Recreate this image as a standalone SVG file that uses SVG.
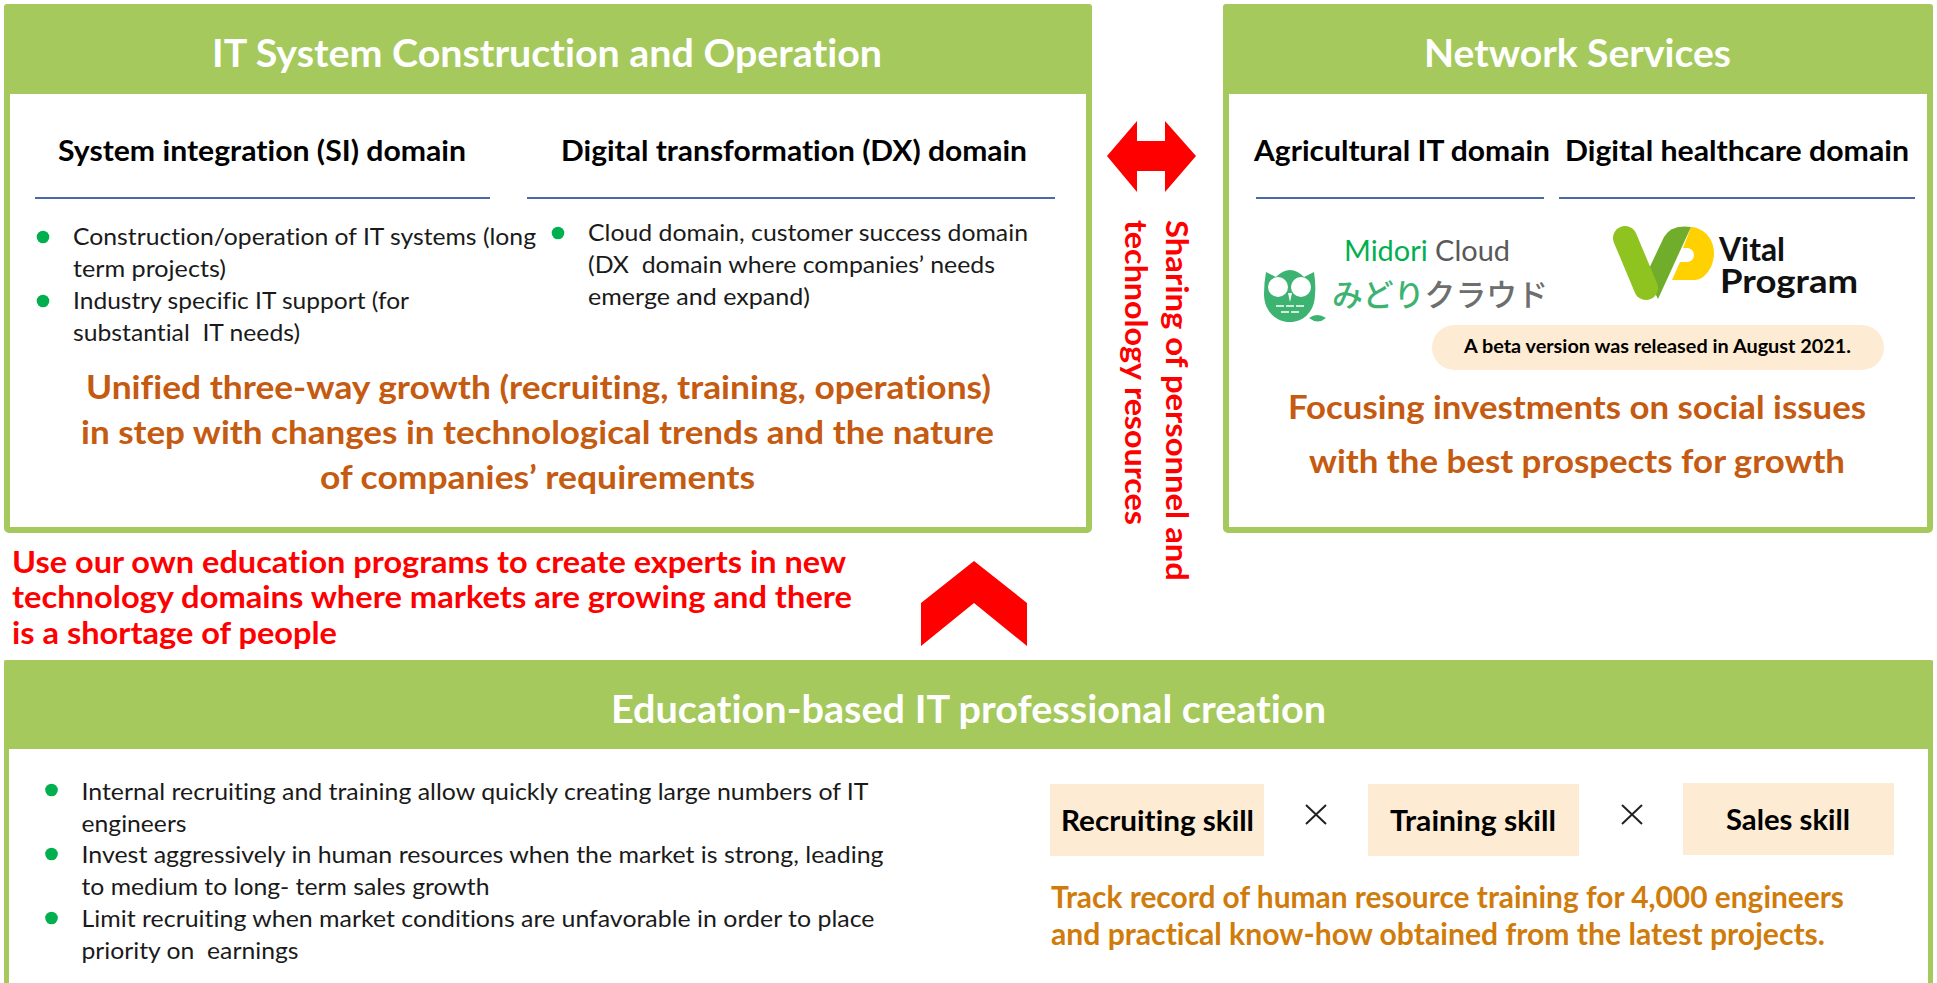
<svg xmlns="http://www.w3.org/2000/svg" width="1937" height="983" viewBox="0 0 1937 983">
<style>
text{font-family:Lato,"Noto Sans",sans-serif;white-space:pre;font-variant-ligatures:none}
.hd{fill:#a5c95c}
.box{fill:#fff;stroke:#a5c95c;stroke-width:6}
.t{font-size:39px;font-weight:700;fill:#fff}
.d{font-size:28px;font-weight:700;fill:#000}
.b{font-size:23.500px;fill:#1a1a1a}
.o{font-size:33px;font-weight:700;fill:#c55a11}
.r{font-size:30px;font-weight:700;fill:#f00}
.s{font-size:29px;font-weight:700;fill:#000}
.g{font-size:30px;font-weight:700;fill:#d07c0c}
.rule{stroke:#4a68ab;stroke-width:2}
.dot{fill:#00b050}
.sk{fill:#fdebd3}
.x{stroke:#222;stroke-width:2}
</style>
<rect width="1937" height="983" fill="#fff"/>
<g id="panel-it">
<rect class="box" x="7" y="7" width="1082" height="523" rx="2"/>
<rect class="hd" x="4" y="4" width="1088" height="90" rx="3"/>
<rect class="hd" x="4" y="60" width="1088" height="34"/>
<text class="t" x="212" y="67" textLength="670" lengthAdjust="spacingAndGlyphs">IT System Construction and Operation</text>
<text class="d" x="58" y="161" textLength="408" lengthAdjust="spacingAndGlyphs">System integration (SI) domain</text>
<text class="d" x="561" y="161" textLength="466" lengthAdjust="spacingAndGlyphs">Digital transformation (DX) domain</text>
<line class="rule" x1="35" y1="198" x2="490" y2="198"/>
<line class="rule" x1="527" y1="198" x2="1055" y2="198"/>
<circle class="dot" cx="43" cy="237" r="6.300"/>
<circle class="dot" cx="43" cy="301" r="6.300"/>
<circle class="dot" cx="558" cy="233" r="6.300"/>
<text class="b" x="73" y="245" textLength="463" lengthAdjust="spacingAndGlyphs">Construction/operation of IT systems (long</text>
<text class="b" x="73" y="277" textLength="153" lengthAdjust="spacingAndGlyphs">term projects)</text>
<text class="b" x="73" y="309" textLength="336" lengthAdjust="spacingAndGlyphs">Industry specific IT support (for</text>
<text class="b" x="73" y="341" textLength="227" lengthAdjust="spacingAndGlyphs">substantial  IT needs)</text>
<text class="b" x="588" y="241" textLength="440" lengthAdjust="spacingAndGlyphs">Cloud domain, customer success domain</text>
<text class="b" x="588" y="273" textLength="407" lengthAdjust="spacingAndGlyphs">(DX  domain where companies’ needs</text>
<text class="b" x="588" y="305" textLength="222" lengthAdjust="spacingAndGlyphs">emerge and expand)</text>
<text class="o" x="86" y="399" textLength="905" lengthAdjust="spacingAndGlyphs">Unified three-way growth (recruiting, training, operations)</text>
<text class="o" x="81" y="444" textLength="913" lengthAdjust="spacingAndGlyphs">in step with changes in technological trends and the nature</text>
<text class="o" x="320" y="489" textLength="435" lengthAdjust="spacingAndGlyphs">of companies’ requirements</text>
</g>
<g id="panel-network">
<rect class="box" x="1226" y="7" width="704" height="523" rx="2"/>
<rect class="hd" x="1223" y="4" width="710" height="90" rx="3"/>
<rect class="hd" x="1223" y="60" width="710" height="34"/>
<text class="t" x="1424" y="67" textLength="307" lengthAdjust="spacingAndGlyphs">Network Services</text>
<text class="d" x="1254" y="161" textLength="296" lengthAdjust="spacingAndGlyphs">Agricultural IT domain</text>
<text class="d" x="1565" y="161" textLength="344" lengthAdjust="spacingAndGlyphs">Digital healthcare domain</text>
<line class="rule" x1="1256" y1="198" x2="1544" y2="198"/>
<line class="rule" x1="1559" y1="198" x2="1915" y2="198"/>
<g id="logo-midori">
<text x="1344" y="261" font-size="28" textLength="166" lengthAdjust="spacingAndGlyphs"><tspan fill="#00b050">Midori</tspan><tspan fill="#595959"> Cloud</tspan></text>
<path d="M1266 272L1276 277Q1290 263 1304 277L1314 272Q1316 285 1315 294C1315 312 1303 322 1290 322C1277 322 1264 312 1264 294Q1264 283 1266 272Z" fill="#3cb371"/>
<circle cx="1278" cy="287" r="10" fill="#fff"/>
<circle cx="1301" cy="287" r="10" fill="#fff"/>
<path d="M1288 293h4l-2 9z" fill="#fff"/>
<path d="M1276 306h8M1286 306h8M1296 306h8M1281 312h8M1291 312h8" stroke="#fff" stroke-width="1.500"/>
<path d="M1309 318q8-6 17 0q-8 7-17 0z" fill="#3cb371"/>
<text x="1332" y="306" font-size="31" font-weight="500" textLength="216" lengthAdjust="spacingAndGlyphs" style="font-family:'Noto Sans CJK JP',sans-serif"><tspan fill="#3cb371">みどり</tspan><tspan fill="#6e6e6e">クラウド</tspan></text>
</g>
<g id="logo-vital">
<path d="M1691 227C1705 228 1714 240 1714 253C1714 268 1704 280 1695 280H1672L1680 262H1687A7 7 0 0 0 1687 248H1683Z" fill="#ffd100"/>
<path d="M1658 299L1691 227Q1671 224 1664 237L1646 275Z" fill="#6fad2b"/>
<path d="M1625 238L1646 288" stroke="#8fc31f" stroke-width="24" stroke-linecap="round" fill="none"/>
<text x="1719" y="261" font-size="33" font-weight="700" fill="#111" textLength="66" lengthAdjust="spacingAndGlyphs">Vital</text>
<text x="1720" y="293" font-size="33" font-weight="700" fill="#111" textLength="138" lengthAdjust="spacingAndGlyphs">Program</text>
</g>
<rect class="sk" x="1432" y="325" width="452" height="45" rx="22.500"/>
<text x="1464" y="353" font-size="19" font-weight="700" fill="#000" textLength="387" lengthAdjust="spacingAndGlyphs">A beta version was released in August 2021.</text>
<text class="o" x="1288" y="419" textLength="578" lengthAdjust="spacingAndGlyphs">Focusing investments on social issues</text>
<text class="o" x="1309" y="473" textLength="536" lengthAdjust="spacingAndGlyphs">with the best prospects for growth</text>
</g>
<g id="connectors">
<path fill="#f00" d="M1107 156L1137 121V141H1165V121L1196 156L1165 192V171H1137V192Z"/>
<path fill="#f00" d="M921 646V603L974 561L1027 603V646L974 603Z"/>
</g>
<text class="r" transform="translate(1166 220) rotate(90)" textLength="361" lengthAdjust="spacingAndGlyphs">Sharing of personnel and</text>
<text class="r" transform="translate(1125 220) rotate(90)" textLength="305" lengthAdjust="spacingAndGlyphs">technology resources</text>
<text class="r" x="12" y="573" textLength="834" lengthAdjust="spacingAndGlyphs">Use our own education programs to create experts in new</text>
<text class="r" x="12" y="608" textLength="840" lengthAdjust="spacingAndGlyphs">technology domains where markets are growing and there</text>
<text class="r" x="12" y="644" textLength="325" lengthAdjust="spacingAndGlyphs">is a shortage of people</text>
<g id="panel-education">
<rect class="box" x="6.500" y="663" width="1924" height="330" style="stroke-width:5"/>
<rect class="hd" x="4" y="660" width="1929" height="89" rx="3"/>
<rect class="hd" x="4" y="710" width="1929" height="39"/>
<text class="t" x="611" y="723" textLength="715" lengthAdjust="spacingAndGlyphs">Education-based IT professional creation</text>
<circle class="dot" cx="51.500" cy="790" r="6.300"/>
<circle class="dot" cx="51.500" cy="854" r="6.300"/>
<circle class="dot" cx="51.500" cy="918" r="6.300"/>
<text class="b" x="81.500" y="800" textLength="787" lengthAdjust="spacingAndGlyphs">Internal recruiting and training allow quickly creating large numbers of IT</text>
<text class="b" x="81.500" y="832" textLength="105" lengthAdjust="spacingAndGlyphs">engineers</text>
<text class="b" x="81.500" y="863" textLength="802" lengthAdjust="spacingAndGlyphs">Invest aggressively in human resources when the market is strong, leading</text>
<text class="b" x="81.500" y="895" textLength="408" lengthAdjust="spacingAndGlyphs">to medium to long- term sales growth</text>
<text class="b" x="81.500" y="927" textLength="793" lengthAdjust="spacingAndGlyphs">Limit recruiting when market conditions are unfavorable in order to place</text>
<text class="b" x="81.500" y="959" textLength="217" lengthAdjust="spacingAndGlyphs">priority on  earnings</text>
<rect class="sk" x="1050" y="784" width="214" height="72"/>
<text class="s" x="1061" y="831" textLength="193" lengthAdjust="spacingAndGlyphs">Recruiting skill</text>
<path class="x" d="M1306 805l20 19M1326 805l-20 19"/>
<rect class="sk" x="1368" y="784" width="211" height="72"/>
<text class="s" x="1390" y="831" textLength="166" lengthAdjust="spacingAndGlyphs">Training skill</text>
<path class="x" d="M1622 805l20 19M1642 805l-20 19"/>
<rect class="sk" x="1683" y="783" width="211" height="72"/>
<text class="s" x="1726" y="830" textLength="124" lengthAdjust="spacingAndGlyphs">Sales skill</text>
<text class="g" x="1051" y="908" textLength="793" lengthAdjust="spacingAndGlyphs">Track record of human resource training for 4,000 engineers</text>
<text class="g" x="1051" y="945" textLength="774" lengthAdjust="spacingAndGlyphs">and practical know-how obtained from the latest projects.</text>
</g>
</svg>
